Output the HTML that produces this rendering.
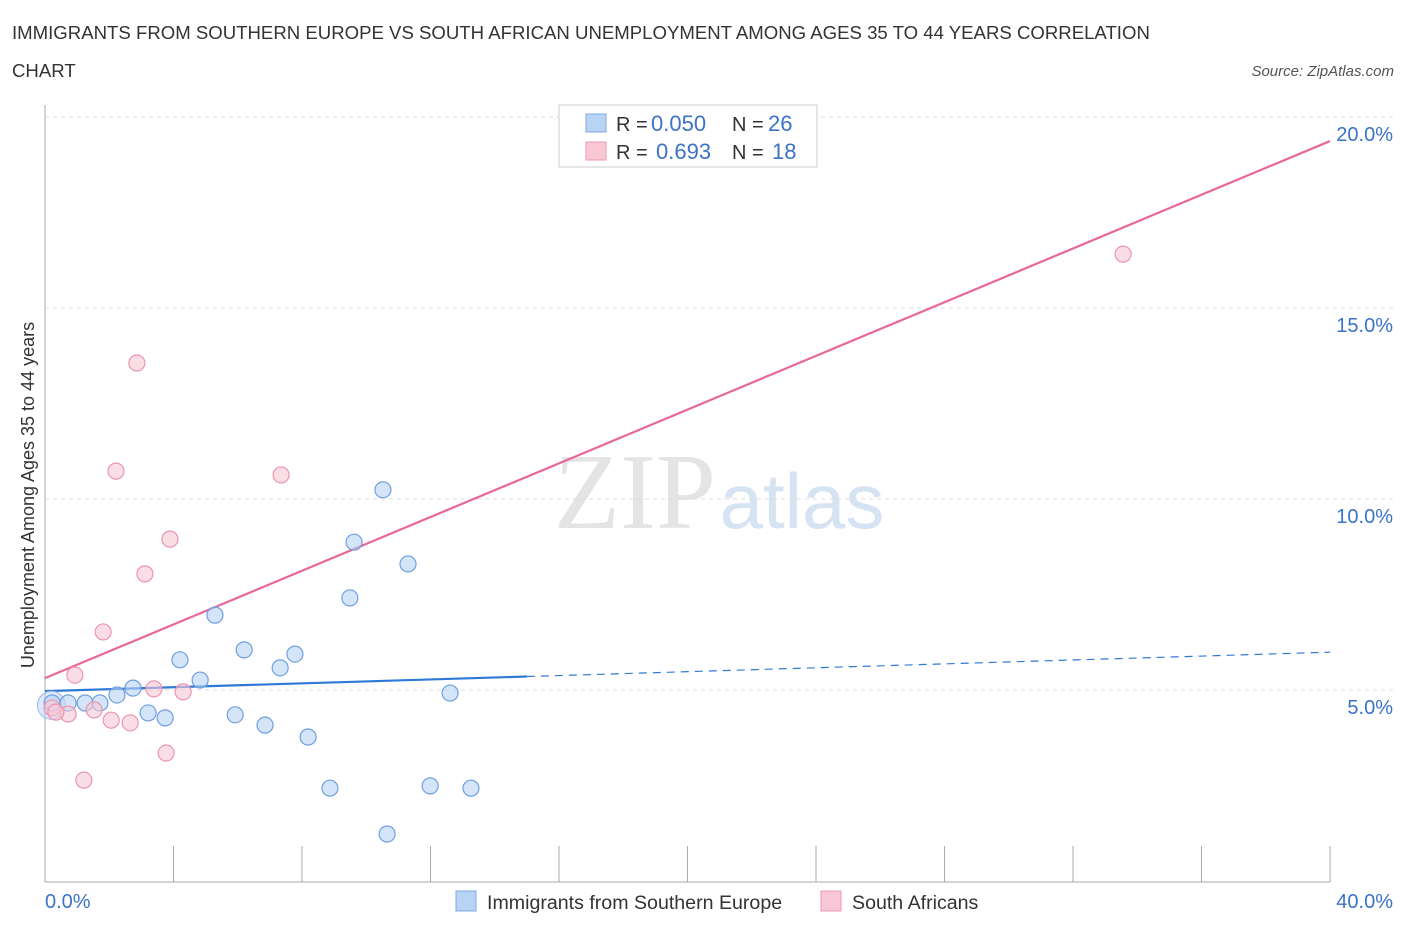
<!DOCTYPE html>
<html><head><meta charset="utf-8"><style>
body{margin:0;background:#fff;font-family:"Liberation Sans",sans-serif;}
svg{display:block}
</style></head><body>
<svg id="c" width="1406" height="930" xmlns="http://www.w3.org/2000/svg">
<text x="12" y="39" font-size="18.6" fill="#333">IMMIGRANTS FROM SOUTHERN EUROPE VS SOUTH AFRICAN UNEMPLOYMENT AMONG AGES 35 TO 44 YEARS CORRELATION</text>
<text x="12" y="77" font-size="18.6" fill="#333">CHART</text>
<text x="1394" y="76" font-size="15" fill="#555" font-style="italic" text-anchor="end">Source: ZipAtlas.com</text>
<text x="635" y="528" font-size="108" fill="#e4e4e4" font-family="Liberation Serif,serif" text-anchor="middle">ZIP</text>
<text x="802" y="528" font-size="78" fill="#d6e3f3" text-anchor="middle">atlas</text>
<text transform="translate(34,495) rotate(-90)" font-size="18" fill="#333" text-anchor="middle">Unemployment Among Ages 35 to 44 years</text>
<g id="grid"></g><g id="lines"></g><g id="pts"></g>
<g>
<rect x="559" y="105" width="258" height="62" fill="#fff" stroke="#ccc"/>
<rect x="586" y="114" width="20" height="18" fill="#b9d3f5" stroke="#7ea9e3"/>
<rect x="586" y="142" width="20" height="18" fill="#f9c6d5" stroke="#eb9ab3"/>
<text x="616" y="131" font-size="20" fill="#333">R =</text>
<text x="651" y="131" font-size="22" fill="#3b73c8">0.050</text>
<text x="732" y="131" font-size="20" fill="#333">N =</text>
<text x="768" y="131" font-size="22" fill="#3b73c8">26</text>
<text x="616" y="159" font-size="20" fill="#333">R =</text>
<text x="656" y="159" font-size="22" fill="#3b73c8">0.693</text>
<text x="732" y="159" font-size="20" fill="#333">N =</text>
<text x="772" y="159" font-size="22" fill="#3b73c8">18</text>
</g>
<g>
<rect x="456" y="891" width="20" height="20" fill="#b9d3f5" stroke="#7ea9e3"/>
<text x="487" y="909" font-size="19.6" fill="#333">Immigrants from Southern Europe</text>
<rect x="821" y="891" width="20" height="20" fill="#f9c6d5" stroke="#eb9ab3"/>
<text x="852" y="909" font-size="19.6" fill="#333">South Africans</text>
</g>
</svg>
<script>
const xTicksPct=[0,40];
const yTicks=[5,10,15,20];
const blueX=[0.22,0.72,1.25,1.71,2.24,2.74,3.21,3.74,4.20,4.83,5.29,5.92,6.20,6.85,7.32,7.78,8.19,8.87,9.49,9.62,10.52,10.65,11.30,11.99,12.61,13.26];
const blueY=[4.66,4.66,4.66,4.66,4.87,5.05,4.40,4.27,5.79,5.26,6.96,4.35,6.05,4.08,5.58,5.94,3.77,2.43,7.41,8.87,10.24,1.23,8.30,2.49,4.92,2.43];
const pinkX=[0.22,0.72,0.93,1.21,1.53,1.81,2.06,2.21,2.65,2.86,3.11,3.39,3.77,3.89,4.30,7.35,33.56,0.34];
const pinkY=[4.53,4.37,5.39,2.64,4.48,6.52,4.21,10.73,4.14,13.56,8.04,5.03,3.35,8.95,4.95,10.63,16.41,4.42];
const blueFit=[4.97,5.99];
const pinkFit=[5.31,19.37];
const X=v=>45+v/40*1285, Y=v=>881-v*38.2;
const NS="http://www.w3.org/2000/svg";
function mk(t,a,p){const e=document.createElementNS(NS,t);for(const k in a)e.setAttribute(k,a[k]);p.appendChild(e);return e;}
const g=document.getElementById('grid');
mk('line',{x1:45,y1:105,x2:45,y2:882,stroke:'#aaa'},g);
mk('line',{x1:45,y1:882,x2:1330,y2:882,stroke:'#aaa'},g);
for(let i=0;i<=10;i++){const l=mk('line',{x1:X(i*4),x2:X(i*4),y1:846,y2:882,stroke:'#aaa'},g);

}
yTicks.forEach(v=>{const l=mk('line',{x1:45,x2:1395,y1:Y(v),y2:Y(v),stroke:'#ddd','stroke-dasharray':'4,4'},g);


const t=mk('text',{x:1393,y:Y(v)+24,'font-size':20,fill:'#3b73c8','text-anchor':'end'},g);t.textContent=v.toFixed(1)+'%';

});
xTicksPct.forEach((v,i)=>{const t=mk('text',{x:i?1393:45,y:908,'font-size':20,fill:'#3b73c8','text-anchor':i?'end':'start'},g);t.textContent=v.toFixed(1)+'%';

});
const L=document.getElementById('lines');
const fy=t=>blueFit[0]+(blueFit[1]-blueFit[0])*t/40;
let b1=mk('line',{x1:X(0),y1:Y(fy(0)),x2:X(15),y2:Y(fy(15)),stroke:'#2f7ad6','stroke-width':2.2},L);


let b2=mk('line',{x1:X(15),y1:Y(fy(15)),x2:X(40),y2:Y(fy(40)),stroke:'#2f7ad6','stroke-width':1.2,'stroke-dasharray':'8,6'},L);


let p1=mk('line',{x1:X(0),y1:Y(pinkFit[0]),x2:X(40),y2:Y(pinkFit[1]),stroke:'#e8679a','stroke-width':2.2},L);


const P=document.getElementById('pts');
let big=mk('circle',{cx:X(0.2),cy:Y(4.6),r:14,fill:'rgba(185,211,245,0.5)',stroke:'#9bbbe8'},P);


blueX.forEach((x,i)=>{const c=mk('circle',{cx:X(x),cy:Y(blueY[i]),r:8,fill:'rgba(185,211,245,0.6)',stroke:'#6f9fe0','stroke-width':1.2},P);

});
pinkX.forEach((x,i)=>{const c=mk('circle',{cx:X(x),cy:Y(pinkY[i]),r:8,fill:'rgba(249,198,213,0.6)',stroke:'#eb95b0','stroke-width':1.2},P);

});
</script>
</body></html>
